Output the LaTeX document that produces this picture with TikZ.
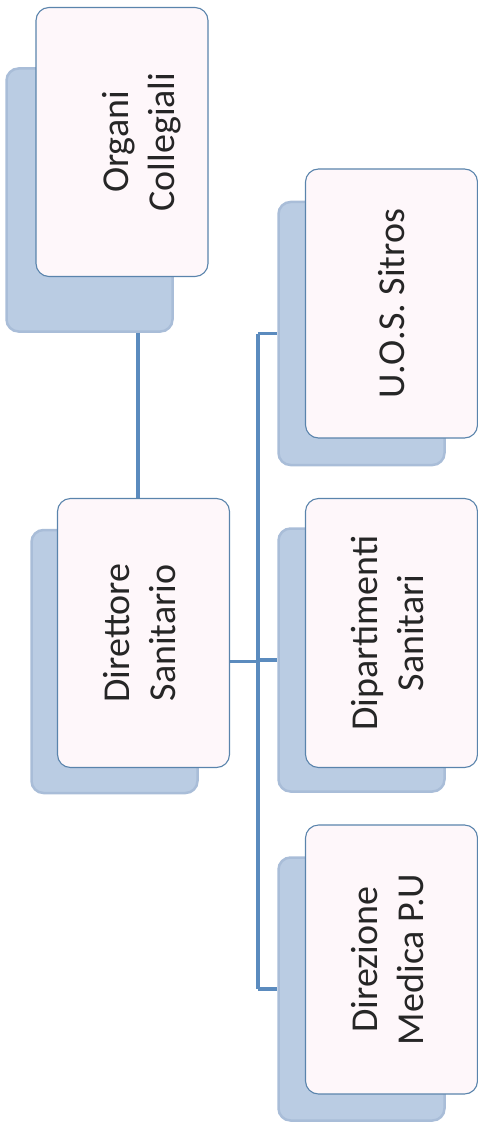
\documentclass[tikz,border=0pt]{standalone}
\usepackage{fontspec}
\setmainfont{Carlito}
\definecolor{bordbleu}{HTML}{5A84AC}
\definecolor{ombrebleu}{HTML}{BACCE3}
\definecolor{ombrebord}{HTML}{A9BDD8}
\definecolor{lienbleu}{HTML}{5B8BBE}
\definecolor{fondrose}{HTML}{FEF7FA}

\def\lw{172}
\def\lh{269}
\def\sw{166}
\def\sh{263}
\def\xbus{258}

\newcommand{\deuxlignes}[2]{\rotatebox{90}{\begin{tabular}{@{}c@{}}#1\\#2\end{tabular}}}

\begin{document}
\begin{tikzpicture}[x=1pt,y=-1pt]
\tikzstyle{boite}=[draw=bordbleu,line width=1.1pt,fill=fondrose,rounded corners=13pt,minimum width=\lw pt,minimum height=\lh pt,inner sep=0pt,font=\fontsize{38}{46}\selectfont,text=black!85]
\tikzstyle{ombre}=[draw=ombrebord,line width=2.5pt,fill=ombrebleu,rounded corners=12pt,minimum width=\sw pt,minimum height=\sh pt,inner sep=0pt]
\tikzstyle{lien}=[draw=lienbleu,line width=3.6pt]

\useasboundingbox (0,0) rectangle (478,1123);

% ombres
\node[ombre] (organi-s) at (89.5,200) {};
\node[ombre] (dir-s) at (114.5,661.5) {};
\node[ombre] (sitros-s) at (361.5,333.5) {};
\node[ombre] (dip-s) at (361.5,660) {};
\node[ombre] (direz-s) at (361.5,989) {};

% liens
\coordinate (bus) at (\xbus,660);
\draw[lien] (organi-s.south -| 138,0) -- (dir-s.north -| 138,0);
\draw[lien] (dir-s.east) -- (dir-s.east -| bus);
\draw[lien] (sitros-s.west -| bus) -- (direz-s.west -| bus);
\draw[lien] (sitros-s.west -| bus) -- (sitros-s.west);
\draw[lien] (dip-s.west -| bus) -- (dip-s.west);
\draw[lien] (direz-s.west -| bus) -- (direz-s.west);

% boites
\node[boite] (organi) at (122,142) {\hspace*{40pt}\deuxlignes{Organi}{Collegiali}};
\node[boite] (dir) at (143.5,633) {\deuxlignes{Direttore}{Sanitario}};
\node[boite] (sitros) at (391.5,303.5) {\rotatebox{90}{U.O.S. Sitros}};
\node[boite] (dip) at (391.5,633) {\deuxlignes{Dipartimenti}{Sanitari}};
\node[boite] (direz) at (391.5,959.5) {\deuxlignes{Direzione}{Medica P.U}};

\end{tikzpicture}
\end{document}
